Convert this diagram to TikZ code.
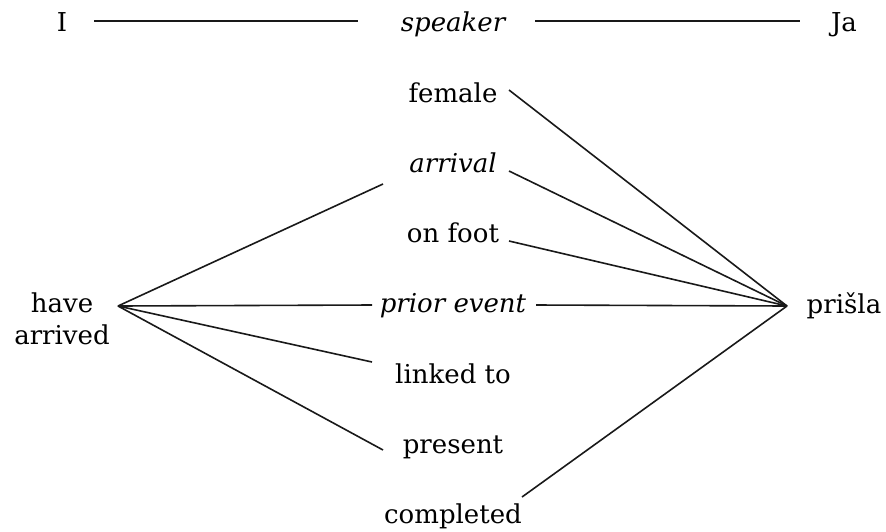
\documentclass[tikz,border=0pt]{standalone}
\usepackage{fontspec}
\setmainfont{DejaVu Serif}
\usetikzlibrary{calc}
\begin{document}
\begin{tikzpicture}[x=1pt,y=-1pt,
  lbl/.style={inner sep=0pt,anchor=base,font=\fontsize{26}{32}\selectfont},
  conn/.style={line width=1.6pt,black!90}]
\useasboundingbox (0,0) rectangle (886,531);
% top row
\node[lbl] (I) at (62,31) {I};
\node[lbl] (speaker) at (453,31) {\itshape speaker};
\node[lbl] (Ja) at (844,31) {Ja};
\draw[conn] ($(I.base)+(32,-10)$) -- ($(speaker.base)+(-95,-10)$);
\draw[conn] ($(speaker.base)+(82,-10)$) -- ($(Ja.base)+(-44,-10)$);
% middle column
\node[lbl] (female) at (453,102) {female};
\node[lbl] (arrival) at (453,172) {\itshape arrival};
\node[lbl] (onfoot) at (453,242) {on foot};
\node[lbl] (prior) at (453,312) {\itshape prior event};
\node[lbl] (linked) at (453,383) {linked to};
\node[lbl] (present) at (453,453) {present};
\node[lbl] (completed) at (453,523) {completed};
% sides
\node[lbl,anchor=center,align=center] (have) at (62,319) {have\\arrived};
\node[lbl] (prisla) at (844,313) {prišla};
\coordinate (L) at (118,306);
\coordinate (R) at (787,306);
% left fan
\draw[conn] (L) -- ($(arrival.base)+(-70,12)$);
\draw[conn] (L) -- ($(prior.base)+(-81,-7)$);
\draw[conn] (L) -- ($(linked.base)+(-81,-21)$);
\draw[conn] (L) -- ($(present.base)+(-70,-3)$);
% right fan
\draw[conn] (R) -- ($(female.base)+(56,-12)$);
\draw[conn] (R) -- ($(arrival.base)+(56,-1)$);
\draw[conn] (R) -- ($(onfoot.base)+(56,-1)$);
\draw[conn] (R) -- ($(prior.base)+(83,-7)$);
\draw[conn] (R) -- ($(completed.base)+(69,-26)$);
\end{tikzpicture}
\end{document}
